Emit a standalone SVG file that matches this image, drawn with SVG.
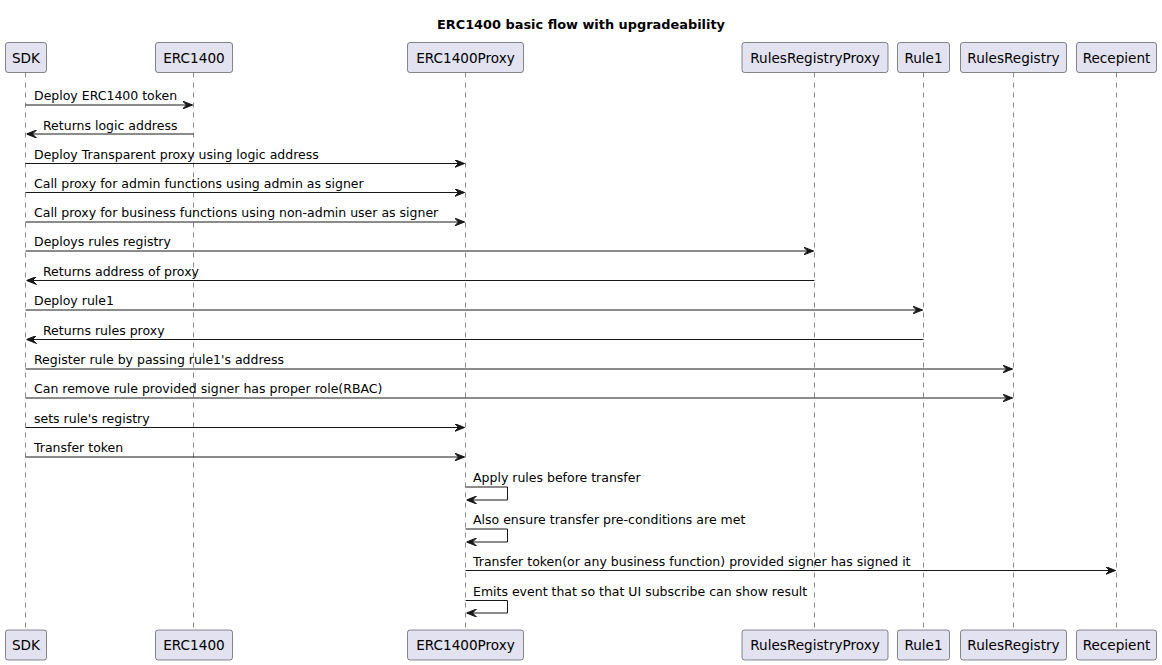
<svg xmlns="http://www.w3.org/2000/svg" width="1162" height="665" viewBox="0 0 1162 665">
<style>
  .bg{fill:#FFFFFF}
  .box{fill:#E2E2F0;stroke:#181818;stroke-width:0.5}
  .life{stroke:#181818;stroke-width:0.5;stroke-dasharray:5,5;fill:none}
  .pname{font-family:"DejaVu Sans",Verdana,sans-serif;font-size:13.6px;fill:#000000;text-anchor:middle}
  .msg{stroke:#181818;stroke-width:1;fill:none}
  .lbl{font-family:"DejaVu Sans",Verdana,sans-serif;font-size:12.5px;fill:#000000}
  .title{font-family:"DejaVu Sans",Verdana,sans-serif;font-size:12.9px;font-weight:bold;fill:#000000;text-anchor:middle}
</style>
<defs>
  <marker id="ah" viewBox="0 0 10 8" refX="10" refY="4" markerWidth="10" markerHeight="8" markerUnits="userSpaceOnUse" orient="auto">
    <polygon points="0,0 10,4 0,8 4,4" fill="#181818" stroke="#181818" stroke-width="1"/>
  </marker>
</defs>
<rect class="bg" x="0" y="0" width="1162" height="665"/>
<text class="title" x="581" y="28.5">ERC1400 basic flow with upgradeability</text>

<g id="lifelines">
  <line class="life" x1="25.5" y1="72.5" x2="25.5" y2="630"/>
  <line class="life" x1="193.5" y1="72.5" x2="193.5" y2="630"/>
  <line class="life" x1="465.5" y1="72.5" x2="465.5" y2="630"/>
  <line class="life" x1="814.5" y1="72.5" x2="814.5" y2="630"/>
  <line class="life" x1="923.5" y1="72.5" x2="923.5" y2="630"/>
  <line class="life" x1="1013.5" y1="72.5" x2="1013.5" y2="630"/>
  <line class="life" x1="1116.5" y1="72.5" x2="1116.5" y2="630"/>
</g>

<g id="SDK">
  <rect class="box" x="5.5" y="42.5" width="41" height="30" rx="2.5"/>
  <text class="pname" x="26" y="62.5">SDK</text>
  <rect class="box" x="5.5" y="630" width="41" height="30" rx="2.5"/>
  <text class="pname" x="26" y="650">SDK</text>
</g>
<g id="ERC1400">
  <rect class="box" x="155.5" y="42.5" width="77" height="30" rx="2.5"/>
  <text class="pname" x="194" y="62.5">ERC1400</text>
  <rect class="box" x="155.5" y="630" width="77" height="30" rx="2.5"/>
  <text class="pname" x="194" y="650">ERC1400</text>
</g>
<g id="ERC1400Proxy">
  <rect class="box" x="407.5" y="42.5" width="116" height="30" rx="2.5"/>
  <text class="pname" x="465.5" y="62.5">ERC1400Proxy</text>
  <rect class="box" x="407.5" y="630" width="116" height="30" rx="2.5"/>
  <text class="pname" x="465.5" y="650">ERC1400Proxy</text>
</g>
<g id="RulesRegistryProxy">
  <rect class="box" x="742" y="42.5" width="146" height="30" rx="2.5"/>
  <text class="pname" x="815" y="62.5">RulesRegistryProxy</text>
  <rect class="box" x="742" y="630" width="146" height="30" rx="2.5"/>
  <text class="pname" x="815" y="650">RulesRegistryProxy</text>
</g>
<g id="Rule1">
  <rect class="box" x="897.5" y="42.5" width="52" height="30" rx="2.5"/>
  <text class="pname" x="923.5" y="62.5">Rule1</text>
  <rect class="box" x="897.5" y="630" width="52" height="30" rx="2.5"/>
  <text class="pname" x="923.5" y="650">Rule1</text>
</g>
<g id="RulesRegistry">
  <rect class="box" x="960.5" y="42.5" width="106" height="30" rx="2.5"/>
  <text class="pname" x="1013.5" y="62.5">RulesRegistry</text>
  <rect class="box" x="960.5" y="630" width="106" height="30" rx="2.5"/>
  <text class="pname" x="1013.5" y="650">RulesRegistry</text>
</g>
<g id="Recepient">
  <rect class="box" x="1076.5" y="42.5" width="80" height="30" rx="2.5"/>
  <text class="pname" x="1116.5" y="62.5">Recepient</text>
  <rect class="box" x="1076.5" y="630" width="80" height="30" rx="2.5"/>
  <text class="pname" x="1116.5" y="650">Recepient</text>
</g>

<g id="connectors">
  <line class="msg" x1="25.5" y1="105" x2="192.5" y2="105" marker-end="url(#ah)"/>
  <text class="lbl" x="34" y="100">Deploy ERC1400 token</text>

  <line class="msg" x1="193.5" y1="134" x2="26.5" y2="134" marker-end="url(#ah)"/>
  <text class="lbl" x="43" y="129.5">Returns logic address</text>

  <line class="msg" x1="25.5" y1="163.5" x2="464.5" y2="163.5" marker-end="url(#ah)"/>
  <text class="lbl" x="34" y="158.5">Deploy Transparent proxy using logic address</text>

  <line class="msg" x1="25.5" y1="192.5" x2="464.5" y2="192.5" marker-end="url(#ah)"/>
  <text class="lbl" x="34" y="187.5">Call proxy for admin functions using admin as signer</text>

  <line class="msg" x1="25.5" y1="222" x2="464.5" y2="222" marker-end="url(#ah)"/>
  <text class="lbl" x="34" y="217">Call proxy for business functions using non-admin user as signer</text>

  <line class="msg" x1="25.5" y1="251" x2="813.5" y2="251" marker-end="url(#ah)"/>
  <text class="lbl" x="34" y="246">Deploys rules registry</text>

  <line class="msg" x1="814.5" y1="280.5" x2="26.5" y2="280.5" marker-end="url(#ah)"/>
  <text class="lbl" x="43" y="275.5">Returns address of proxy</text>

  <line class="msg" x1="25.5" y1="310" x2="922.5" y2="310" marker-end="url(#ah)"/>
  <text class="lbl" x="34" y="305">Deploy rule1</text>

  <line class="msg" x1="923.5" y1="339.5" x2="26.5" y2="339.5" marker-end="url(#ah)"/>
  <text class="lbl" x="43" y="334.5">Returns rules proxy</text>

  <line class="msg" x1="25.5" y1="369" x2="1012.5" y2="369" marker-end="url(#ah)"/>
  <text class="lbl" x="34" y="364">Register rule by passing rule1's address</text>

  <line class="msg" x1="25.5" y1="398" x2="1012.5" y2="398" marker-end="url(#ah)"/>
  <text class="lbl" x="34" y="393">Can remove rule provided signer has proper role(RBAC)</text>

  <line class="msg" x1="25.5" y1="427.5" x2="464.5" y2="427.5" marker-end="url(#ah)"/>
  <text class="lbl" x="34" y="422.5">sets rule's registry</text>

  <line class="msg" x1="25.5" y1="457" x2="464.5" y2="457" marker-end="url(#ah)"/>
  <text class="lbl" x="34" y="452">Transfer token</text>

  <polyline class="msg" points="465.5,487 507.5,487 507.5,500 466.5,500" marker-end="url(#ah)"/>
  <text class="lbl" x="473" y="482">Apply rules before transfer</text>

  <polyline class="msg" points="465.5,529 507.5,529 507.5,542 466.5,542" marker-end="url(#ah)"/>
  <text class="lbl" x="473" y="524">Also ensure transfer pre-conditions are met</text>

  <line class="msg" x1="465.5" y1="570.5" x2="1115.5" y2="570.5" marker-end="url(#ah)"/>
  <text class="lbl" x="473" y="565.5">Transfer token(or any business function) provided signer has signed it</text>

  <polyline class="msg" points="465.5,600.5 507.5,600.5 507.5,613 466.5,613" marker-end="url(#ah)"/>
  <text class="lbl" x="473" y="595.5">Emits event that so that UI subscribe can show result</text>
</g>
</svg>
